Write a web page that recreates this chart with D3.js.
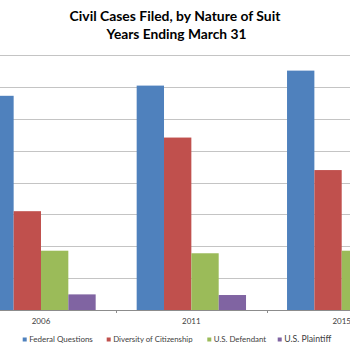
<!DOCTYPE html>
<html>
<head>
<meta charset="utf-8">
<script src="https://cdn.jsdelivr.net/npm/d3@7"></script>
<style>
  html, body { margin: 0; padding: 0; background: #fff; overflow: hidden; }
  svg { display: block; }
</style>
</head>
<body>
<svg id="chart" width="350" height="350"></svg>
<script>
const years = ["2006", "2011", "2015"];
const seriesNames = ["Federal Questions", "Diversity of Citizenship", "U.S. Defendant", "U.S. Plaintiff"];
const federalQuestions = [134400, 140800, 150200];
const diversityOfCitizenship = [62000, 108200, 87800];
const usDefendant = [37200, 35600, 37200];
const usPlaintiff = [9800, 9400, 9000];
const yTicks = [0, 20000, 40000, 60000, 80000, 100000, 120000, 140000, 160000];
const colors = ["#4F81BD", "#C0504D", "#9BBB59", "#8064A2"];
const titleLines = ["Civil Cases Filed, by Nature of Suit", "Years Ending March 31"];

const seriesValues = [federalQuestions, diversityOfCitizenship, usDefendant, usPlaintiff];
const FONT = "Lato, 'Open Sans', 'DejaVu Sans', sans-serif";

const svg = d3.select("#chart");

// plot area (chart is cropped on left and right)
const plot = { left: -34.2, right: 416.9, top: 55, bottom: 310 };

const x = d3.scaleBand().domain(years).range([plot.left, plot.right])
  .paddingInner(0.2727).paddingOuter(0.1364);
const xs = d3.scaleBand().domain(seriesNames).range([0, x.bandwidth()]);
const y = d3.scaleLinear().domain([0, 160000]).range([plot.bottom, plot.top]);

function fit(sel, w) {
  const node = sel.node();
  const fs = parseFloat(sel.attr("font-size"));
  const cur = node.getComputedTextLength();
  if (cur > 0) sel.attr("font-size", (fs * w / cur).toFixed(2));
}

// gridlines
svg.append("g").selectAll("line").data(yTicks.filter(d => d > 0)).join("line")
  .attr("x1", 0).attr("x2", 350)
  .attr("y1", d => Math.round(y(d)) + 0.5).attr("y2", d => Math.round(y(d)) + 0.5)
  .attr("stroke", "#C4C4C4").attr("stroke-width", 1);

// bars
const groups = svg.append("g").selectAll("g").data(years).join("g")
  .attr("transform", d => `translate(${x(d)},0)`);
groups.selectAll("rect")
  .data((yr, i) => seriesNames.map((s, j) => ({ s, v: seriesValues[j][i], c: colors[j] })))
  .join("rect")
  .attr("x", d => xs(d.s))
  .attr("width", xs.bandwidth())
  .attr("y", d => y(d.v))
  .attr("height", d => y(0) - y(d.v))
  .attr("fill", d => d.c);

// x axis
const xAxis = d3.axisBottom(x).tickSize(0).tickPadding(0);
const ax = svg.append("g").attr("transform", `translate(0,${plot.bottom})`).call(xAxis);
ax.select(".domain").remove();
ax.append("line").attr("x1", 0).attr("x2", 350).attr("y1", 0.5).attr("y2", 0.5)
  .attr("stroke", "#8C8C8C");
// tick marks at category boundaries
const bounds = years.slice(1).map(d => x(d) - x.step() * x.paddingInner() / 2);
ax.selectAll(".bound").data(bounds).join("line").attr("class", "bound")
  .attr("x1", d => Math.round(d) + 0.5).attr("x2", d => Math.round(d) + 0.5)
  .attr("y1", 0).attr("y2", 3).attr("stroke", "#8C8C8C");
ax.selectAll(".tick text")
  .attr("font-family", FONT).attr("font-size", 8).attr("fill", "#404040")
  .attr("dy", null).attr("y", 14);

// title
const t1 = svg.append("text").attr("x", 175).attr("y", 20.5).attr("text-anchor", "middle")
  .attr("font-family", FONT).attr("font-weight", "bold").attr("font-size", 13)
  .attr("fill", "#000").text(titleLines[0]);
fit(t1, 211);
const t2 = svg.append("text").attr("x", 176.5).attr("y", 39.3).attr("text-anchor", "middle")
  .attr("font-family", FONT).attr("font-weight", "bold").attr("font-size", 13)
  .attr("fill", "#000").text(titleLines[1]);
fit(t2, 140);

// legend
const legendX = [22.7, 106.7, 207.3, 277.7];
const legendW = [63.7, 79.6, 52.4, 47];
const lg = svg.append("g").selectAll("g").data(seriesNames).join("g")
  .attr("transform", (d, i) => `translate(${legendX[i]},0)`);
lg.append("rect").attr("x", 0).attr("y", 337.5).attr("width", 4).attr("height", 4)
  .attr("fill", (d, i) => colors[i]);
lg.append("text").attr("x", 6.5).attr("y", 342.3)
  .attr("font-family", FONT).attr("font-size", 8).attr("fill", "#404040")
  .text(d => d)
  .each(function (d, i) { fit(d3.select(this), legendW[i]); });
</script>
</body>
</html>
